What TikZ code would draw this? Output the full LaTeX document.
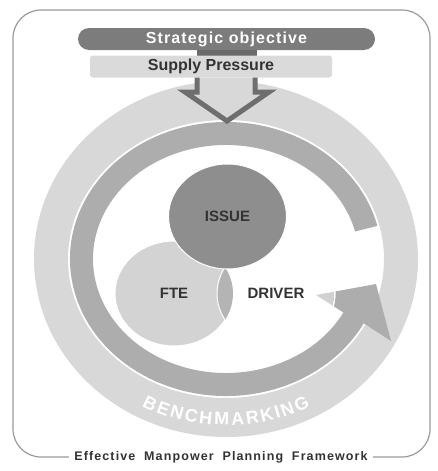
\documentclass[tikz,border=0pt]{standalone}
\usepackage{fontspec}
\setmainfont{Liberation Sans}
\newfontfamily\spacedfont[LetterSpace=7]{Liberation Sans}
\newfontfamily\captionfont[LetterSpace=9]{Liberation Sans}
\usetikzlibrary{shapes.geometric,calc,positioning}

\definecolor{framegray}{HTML}{9A9A9A}
\definecolor{objgray}{HTML}{7C7C7C}
\definecolor{stubgray}{HTML}{6A6A6A}
\definecolor{supplygray}{HTML}{DADADA}
\definecolor{ringlight}{HTML}{D8D8D8}
\definecolor{ringdark}{HTML}{ADADAD}
\definecolor{arrowgray}{HTML}{6E6E6E}
\definecolor{issuegray}{HTML}{8E8E8E}
\definecolor{ftegray}{HTML}{D3D3D3}
\definecolor{lensgray}{HTML}{B4B4B4}
\definecolor{textgray}{HTML}{333333}

\begin{document}
\begin{tikzpicture}[x=1pt,y=-1pt,
  bar/.style={rectangle,inner sep=0pt,minimum height=22pt},
  blob/.style={ellipse,inner sep=0pt,minimum width=118pt,minimum height=105pt,
    draw=white,line width=1pt,font=\bfseries\fontsize{15}{17}\selectfont,
    text=textgray},
  ringletter/.style={inner sep=0pt,text=white,font=\bfseries\fontsize{18}{18}\selectfont}]

\useasboundingbox (0,0) rectangle (437,471);

% frame and caption
\draw[framegray,line width=1.2pt,rounded corners=28pt] (13,10) rectangle (430,457);
\node[fill=white,inner xsep=5pt,inner ysep=2pt,text=textgray,
  font=\captionfont\bfseries\fontsize{12.5}{14}\selectfont] (caption) at (221,457)
  {Effective\hspace{0.7em}Manpower\hspace{0.7em}Planning\hspace{0.7em}Framework};

% benchmarking ring
\coordinate (c) at (226,259);
\fill[ringlight,even odd rule] (c) ellipse [x radius=192,y radius=178]
  (c) ellipse [x radius=158,y radius=139];
\foreach \l/\a [count=\i] in {B/-25.5,E/-20.8,N/-16.1,C/-11.3,H/-6.6,M/-1.4,
    A/3.8,R/8.6,K/13.4,I/16.9,N/20.4,G/25.4} {
  \node[ringletter,rotate=\a] (bm\i) at ($(c)+(-270-\a:176 and 160)$) {\l};
}

% inner ring with its arrow head
\fill[ringdark] ($(c)+(-14:156 and 137)$)
  arc[start angle=-14,end angle=-332,x radius=156,y radius=137]
  -- (391,341) -- (376,284) -- (316,295)
  -- ($(c)+(28:133 and 114)$)
  arc[start angle=-332,end angle=-14,x radius=133,y radius=114] -- cycle;

% top bars
\node[bar,fill=objgray,text=white,rounded corners=11pt,minimum width=297pt,
  font=\spacedfont\bfseries\fontsize{16}{18}\selectfont] (objective) at (226.5,39)
  {Strategic objective};
\node[fill=stubgray,minimum width=60pt,minimum height=6pt,inner sep=0pt,
  below=0pt of objective] (stub) {};
\node[bar,fill=supplygray,text=textgray,rounded corners=3pt,minimum width=242pt,
  font=\bfseries\fontsize{16}{18}\selectfont] (supply) at (211,66.5) {Supply Pressure};

% down arrow into the ring
\fill[ringlight] (197,77.5) -- (197,92) -- (185,92) -- (227,121) -- (269,92)
  -- (255,92) -- (255,77.5) -- cycle;
\draw[arrowgray,line width=5pt] (197,77.5) -- (197,92) -- (185,92) -- (227,121)
  -- (269,92) -- (255,92) -- (255,77.5);

% the three circles
\node[blob,fill=white,fill opacity=0.45,text opacity=1] (driver) at (276,293.5) {DRIVER};
\node[blob,fill=ftegray] (fte) at (174,293.5) {FTE};
\begin{scope}
  \clip (fte.center) ellipse [x radius=59,y radius=52.5];
  \fill[lensgray] (driver.center) ellipse [x radius=59,y radius=52.5];
\end{scope}
\draw[white,line width=1pt] (driver.center) ellipse [x radius=59,y radius=52.5];
\node[blob,fill=issuegray] (issue) at (227.5,216.5) {ISSUE};

\end{tikzpicture}
\end{document}
